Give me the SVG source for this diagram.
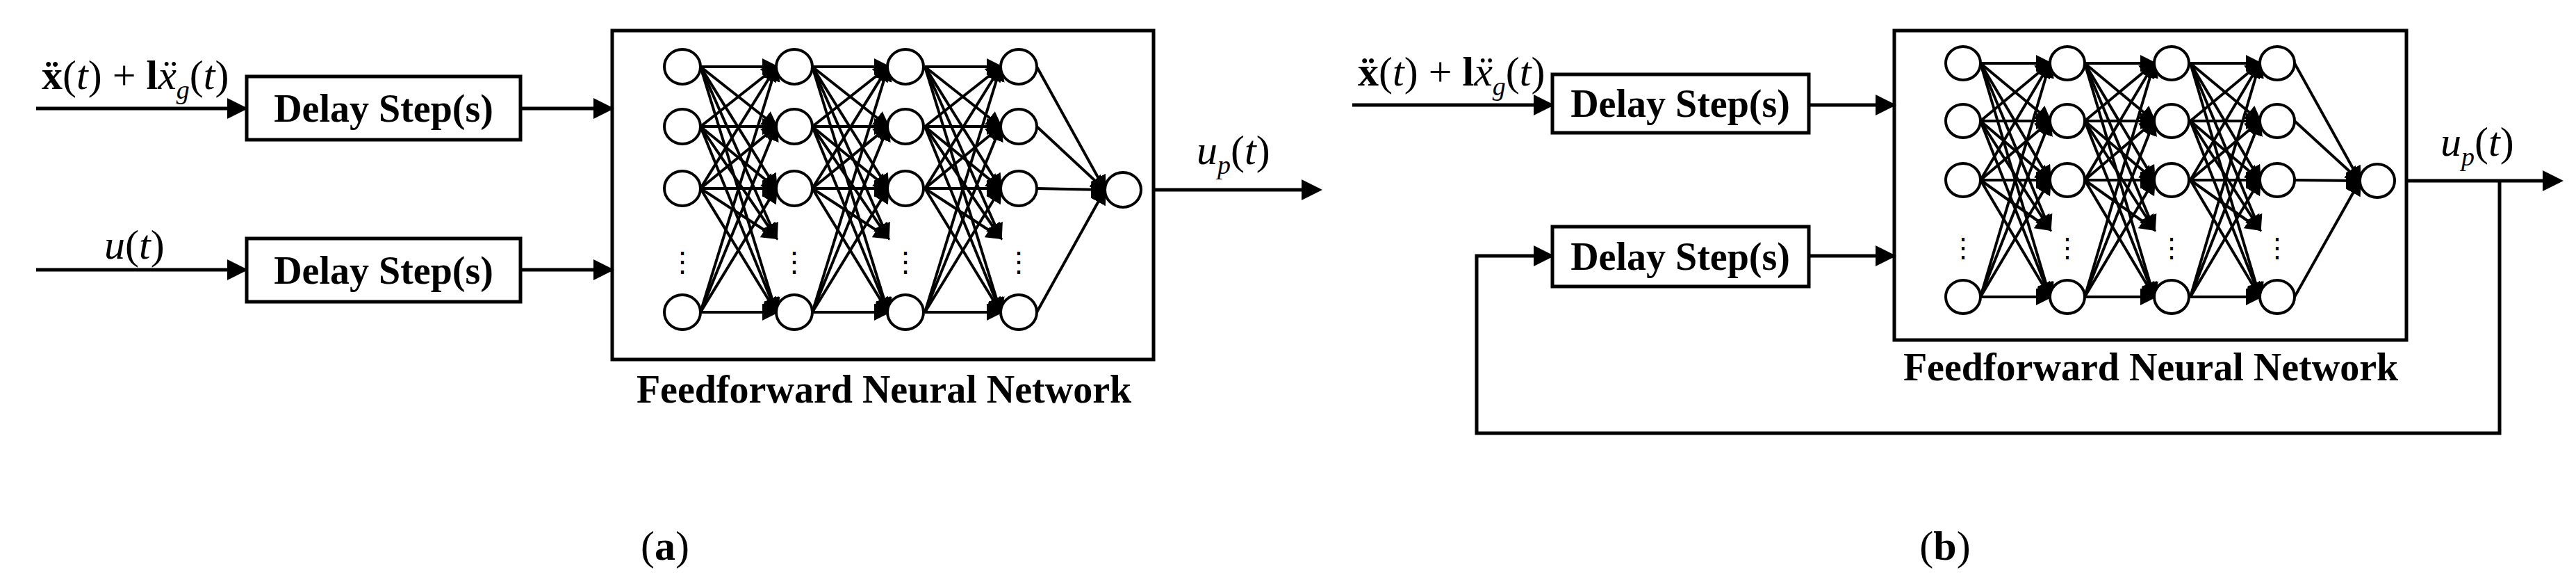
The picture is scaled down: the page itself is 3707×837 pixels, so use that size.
<svg xmlns="http://www.w3.org/2000/svg" xmlns:xlink="http://www.w3.org/1999/xlink" width="3707" height="837" viewBox="0 0 3707 837">
<style>
.m{stroke:#000;stroke-width:5;fill:none}
.e{stroke:#000;stroke-width:4}
.bx{stroke:#000;stroke-width:5;fill:#fff}
.n{stroke:#000;stroke-width:4;fill:#fff}
.t{font-family:"Liberation Serif",serif;fill:#000}
.d{font-family:"Liberation Serif",serif;font-weight:bold;font-size:56px;text-anchor:middle}
.i{font-style:italic}
</style>
<defs>
<marker id="ah" markerWidth="6" markerHeight="6" refX="5" refY="3" orient="auto" markerUnits="strokeWidth"><path d="M0,0 L6,3 L0,6 z"/></marker>
<marker id="as" markerWidth="6" markerHeight="6" refX="5" refY="3" orient="auto" markerUnits="strokeWidth"><path d="M0,0 L6,3 L0,6 z"/></marker>
<g id="layerA" class="e" marker-end="url(#as)">
<line x1="0" y1="96" x2="109" y2="96"/><line x1="0" y1="96" x2="109" y2="182"/><line x1="0" y1="96" x2="109" y2="271"/><line x1="0" y1="96" x2="109" y2="342"/><line x1="0" y1="96" x2="109" y2="449"/>
<line x1="0" y1="182" x2="109" y2="96"/><line x1="0" y1="182" x2="109" y2="182"/><line x1="0" y1="182" x2="109" y2="271"/><line x1="0" y1="182" x2="109" y2="342"/><line x1="0" y1="182" x2="109" y2="449"/>
<line x1="0" y1="271" x2="109" y2="96"/><line x1="0" y1="271" x2="109" y2="182"/><line x1="0" y1="271" x2="109" y2="271"/><line x1="0" y1="271" x2="109" y2="342"/><line x1="0" y1="271" x2="109" y2="449"/>
<line x1="0" y1="449" x2="109" y2="96"/><line x1="0" y1="449" x2="109" y2="182"/><line x1="0" y1="449" x2="109" y2="271"/><line x1="0" y1="449" x2="109" y2="449"/>
</g>
<g id="layerB" class="e" marker-end="url(#as)">
<line x1="0" y1="91" x2="100" y2="91"/><line x1="0" y1="91" x2="100" y2="174"/><line x1="0" y1="91" x2="100" y2="259"/><line x1="0" y1="91" x2="100" y2="330"/><line x1="0" y1="91" x2="100" y2="427"/>
<line x1="0" y1="174" x2="100" y2="91"/><line x1="0" y1="174" x2="100" y2="174"/><line x1="0" y1="174" x2="100" y2="259"/><line x1="0" y1="174" x2="100" y2="330"/><line x1="0" y1="174" x2="100" y2="427"/>
<line x1="0" y1="259" x2="100" y2="91"/><line x1="0" y1="259" x2="100" y2="174"/><line x1="0" y1="259" x2="100" y2="259"/><line x1="0" y1="259" x2="100" y2="330"/><line x1="0" y1="259" x2="100" y2="427"/>
<line x1="0" y1="427" x2="100" y2="91"/><line x1="0" y1="427" x2="100" y2="174"/><line x1="0" y1="427" x2="100" y2="259"/><line x1="0" y1="427" x2="100" y2="427"/>
</g>
</defs>
<rect width="3707" height="837" fill="#fff"/>

<g id="nnA"><rect class="bx" x="881" y="44" width="779" height="473"/></g>
<g id="nnB"><rect class="bx" x="2726" y="44" width="737" height="445"/></g>
<g id="connectors">
<g marker-end="url(#ah)" class="m">
<line x1="52" y1="156" x2="352" y2="156"/>
<line x1="749" y1="156" x2="879" y2="156"/>
<line x1="52" y1="388" x2="352" y2="388"/>
<line x1="749" y1="388" x2="879" y2="388"/>
<line x1="1660" y1="273" x2="1898" y2="273"/>
<line x1="1946" y1="151" x2="2232" y2="151"/>
<line x1="2603" y1="151" x2="2724" y2="151"/>
<line x1="2603" y1="368" x2="2724" y2="368"/>
<polyline points="3597,260 3597,623 2125,623 2125,368 2232,368"/>
<line x1="3463" y1="260" x2="3684" y2="260"/>
</g>
<use xlink:href="#layerA" x="1008"/>
<use xlink:href="#layerA" x="1169"/>
<use xlink:href="#layerA" x="1331"/>
<g class="e" marker-end="url(#as)">
<line x1="1492" y1="96" x2="1590" y2="273"/><line x1="1492" y1="182" x2="1590" y2="273"/><line x1="1492" y1="271" x2="1590" y2="273"/><line x1="1492" y1="449" x2="1590" y2="273"/>
</g>
<use xlink:href="#layerB" x="2850"/>
<use xlink:href="#layerB" x="3000"/>
<use xlink:href="#layerB" x="3152"/>
<g class="e" marker-end="url(#as)">
<line x1="3302" y1="91" x2="3396" y2="260"/><line x1="3302" y1="174" x2="3396" y2="260"/><line x1="3302" y1="259" x2="3396" y2="260"/><line x1="3302" y1="427" x2="3396" y2="260"/>
</g>
</g>

<g id="delayA1"><rect class="bx" x="355" y="110" width="394" height="91"/><text class="t d" x="552" y="175">Delay Step(s)</text></g>
<g id="delayA2"><rect class="bx" x="355" y="343" width="394" height="91"/><text class="t d" x="552" y="408">Delay Step(s)</text></g>
<g id="nodesA" class="n">
<ellipse cx="982" cy="96" rx="26" ry="25"/><ellipse cx="982" cy="182" rx="26" ry="25"/><ellipse cx="982" cy="271" rx="26" ry="25"/><ellipse cx="982" cy="449" rx="26" ry="25"/>
<ellipse cx="1143" cy="96" rx="26" ry="25"/><ellipse cx="1143" cy="182" rx="26" ry="25"/><ellipse cx="1143" cy="271" rx="26" ry="25"/><ellipse cx="1143" cy="449" rx="26" ry="25"/>
<ellipse cx="1303" cy="96" rx="26" ry="25"/><ellipse cx="1303" cy="182" rx="26" ry="25"/><ellipse cx="1303" cy="271" rx="26" ry="25"/><ellipse cx="1303" cy="449" rx="26" ry="25"/>
<ellipse cx="1466" cy="96" rx="26" ry="25"/><ellipse cx="1466" cy="182" rx="26" ry="25"/><ellipse cx="1466" cy="271" rx="26" ry="25"/><ellipse cx="1466" cy="449" rx="26" ry="25"/>
<ellipse cx="1616" cy="273" rx="26" ry="25"/>
</g>
<g class="t" font-size="40" text-anchor="middle">
<text x="982" y="390">⋮</text><text x="1143" y="390">⋮</text><text x="1303" y="390">⋮</text><text x="1466" y="390">⋮</text>
</g>
<g class="t" font-size="60">
<text x="60" y="128"><tspan font-weight="bold">ẍ</tspan>(<tspan class="i">t</tspan>) + <tspan font-weight="bold">l</tspan><tspan class="i">ẍ</tspan><tspan class="i" font-size="38" dy="14">g</tspan><tspan dy="-14">(</tspan><tspan class="i">t</tspan>)</text>
<text x="150" y="372"><tspan class="i">u</tspan>(<tspan class="i">t</tspan>)</text>
<text x="1722" y="236"><tspan class="i">u</tspan><tspan class="i" font-size="38" dy="14">p</tspan><tspan dy="-14">(</tspan><tspan class="i">t</tspan>)</text>
<text x="1954" y="123"><tspan font-weight="bold">ẍ</tspan>(<tspan class="i">t</tspan>) + <tspan font-weight="bold">l</tspan><tspan class="i">ẍ</tspan><tspan class="i" font-size="38" dy="14">g</tspan><tspan dy="-14">(</tspan><tspan class="i">t</tspan>)</text>
<text x="3512" y="224"><tspan class="i">u</tspan><tspan class="i" font-size="38" dy="14">p</tspan><tspan dy="-14">(</tspan><tspan class="i">t</tspan>)</text>
<text x="957" y="805" text-anchor="middle">(<tspan font-weight="bold">a</tspan>)</text>
<text x="2799" y="805" text-anchor="middle">(<tspan font-weight="bold">b</tspan>)</text>
</g>
<text class="t d" x="1272" y="579" font-size="53">Feedforward Neural Network</text>

<g id="delayB1"><rect class="bx" x="2234" y="107" width="369" height="84"/><text class="t d" x="2418" y="168" font-size="52">Delay Step(s)</text></g>
<g id="delayB2"><rect class="bx" x="2234" y="326" width="369" height="86"/><text class="t d" x="2418" y="388" font-size="52">Delay Step(s)</text></g>
<g id="nodesB" class="n">
<ellipse cx="2825" cy="91" rx="25" ry="24"/><ellipse cx="2825" cy="174" rx="25" ry="24"/><ellipse cx="2825" cy="259" rx="25" ry="24"/><ellipse cx="2825" cy="427" rx="25" ry="24"/>
<ellipse cx="2975" cy="91" rx="25" ry="24"/><ellipse cx="2975" cy="174" rx="25" ry="24"/><ellipse cx="2975" cy="259" rx="25" ry="24"/><ellipse cx="2975" cy="427" rx="25" ry="24"/>
<ellipse cx="3125" cy="91" rx="25" ry="24"/><ellipse cx="3125" cy="174" rx="25" ry="24"/><ellipse cx="3125" cy="259" rx="25" ry="24"/><ellipse cx="3125" cy="427" rx="25" ry="24"/>
<ellipse cx="3277" cy="91" rx="25" ry="24"/><ellipse cx="3277" cy="174" rx="25" ry="24"/><ellipse cx="3277" cy="259" rx="25" ry="24"/><ellipse cx="3277" cy="427" rx="25" ry="24"/>
<ellipse cx="3421" cy="260" rx="25" ry="24"/>
</g>
<g class="t" font-size="38" text-anchor="middle">
<text x="2825" y="370">⋮</text><text x="2975" y="370">⋮</text><text x="3125" y="370">⋮</text><text x="3277" y="370">⋮</text>
</g>
<text class="t d" x="3095" y="547" font-size="50">Feedforward Neural Network</text>
</svg>
